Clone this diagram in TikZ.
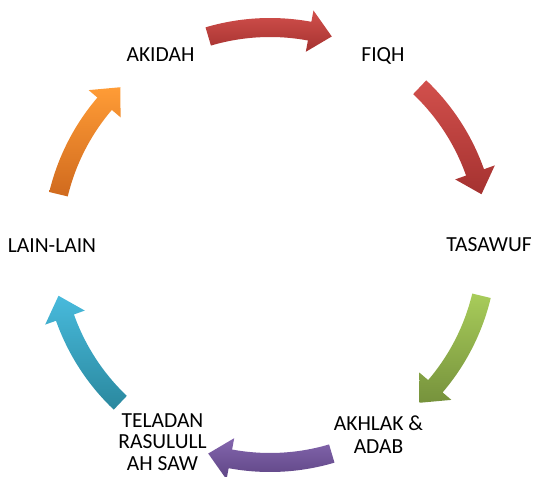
\documentclass[tikz,border=0pt]{standalone}
\usepackage{fontspec}
\setmainfont{Carlito}
\definecolor{redT}{HTML}{D2504C}
\definecolor{redB}{HTML}{A53230}
\definecolor{grnT}{HTML}{A8CC5A}
\definecolor{grnB}{HTML}{76923C}
\definecolor{purT}{HTML}{8466AE}
\definecolor{purB}{HTML}{5E4584}
\definecolor{bluT}{HTML}{48BADC}
\definecolor{bluB}{HTML}{2A889E}
\definecolor{orgT}{HTML}{FF9C36}
\definecolor{orgB}{HTML}{D06A1E}
\newcommand\cycarrow[3]{%
  \pgfmathsetmacro\ta{#1+16.5}%
  \pgfmathsetmacro\tb{#1-10.5}%
  \pgfmathsetmacro\tc{#1-16.5}%
  \shade[top color=#2,bottom color=#3]
    ([shift={(C)}]\ta:227) arc[start angle=\ta,end angle=\tb,radius=227]
    -- ([shift={(C)}]\tb:238.5) -- ([shift={(C)}]\tc:217.5)
    -- ([shift={(C)}]\tb:196.5) -- ([shift={(C)}]\tb:208)
    arc[start angle=\tb,end angle=\ta,radius=208] -- cycle;}
\begin{document}
\begin{tikzpicture}[x=1pt,y=1pt,
  lbl/.style={font=\fontsize{21.5}{21.5}\selectfont,align=center,inner sep=0pt,anchor=base}]
\useasboundingbox (0,0) rectangle (537,476);
\coordinate (C) at (270,231);
\cycarrow{90}{redT}{redB}
\cycarrow{30}{redT}{redB}
\cycarrow{-30}{grnT}{grnB}
\cycarrow{-90}{purT}{purB}
\cycarrow{-150}{bluT}{bluB}
\cycarrow{150}{orgT}{orgB}
\node[lbl] (akidah) at (160.5,414) {AKIDAH};
\node[lbl] (fiqh) at (383,414) {FIQH};
\node[lbl] (tasawuf) at (489,224) {TASAWUF};
\node[lbl,font=\fontsize{21.5}{23}\selectfont] (akhlak) at (378.5,23) {AKHLAK \&\\ADAB};
\node[lbl] (teladan) at (162.5,6) {TELADAN\\RASULULL\\AH SAW};
\node[lbl] (lain) at (52,223) {LAIN-LAIN};
\end{tikzpicture}
\end{document}
